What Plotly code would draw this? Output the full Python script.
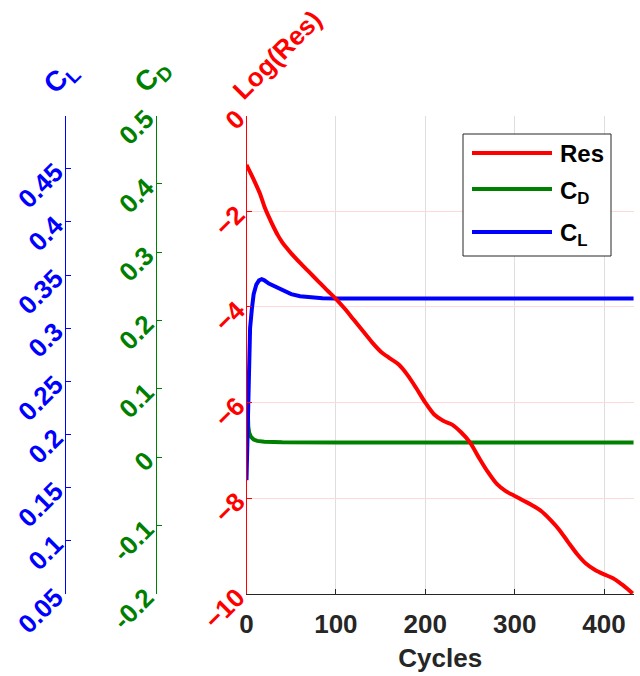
import plotly.graph_objects as go

# Convergence history: residual (log10) and force coefficients vs. solver cycles
res_cycles = [0, 5, 10, 15, 20, 25, 30, 35, 40, 45, 50, 60, 70, 80, 90, 100,
              110, 120, 130, 140, 150, 160, 170, 180, 190, 200, 210, 220, 230,
              240, 250, 260, 270, 280, 290, 300, 310, 320, 330, 340, 350, 360,
              370, 380, 390, 400, 410, 420, 426, 432]
log_res = [-1.03, -1.22, -1.42, -1.63, -1.90, -2.12, -2.32, -2.50, -2.65, -2.77,
           -2.88, -3.08, -3.27, -3.46, -3.65, -3.83, -4.04, -4.27, -4.50, -4.73,
           -4.93, -5.07, -5.20, -5.42, -5.70, -6.00, -6.25, -6.38, -6.46, -6.62,
           -6.83, -7.15, -7.45, -7.70, -7.85, -7.95, -8.05, -8.15, -8.27, -8.45,
           -8.66, -8.92, -9.17, -9.37, -9.50, -9.59, -9.67, -9.80, -9.89, -9.99]

cd_cycles = [0, 1, 2, 3, 5, 8, 12, 20, 40, 100, 200, 300, 433]
cd_values = [0.126, 0.075, 0.045, 0.036, 0.030, 0.026, 0.024, 0.0228, 0.022,
             0.0218, 0.0216, 0.0215, 0.0215]

cl_cycles = [0, 1, 2, 3, 4, 6, 8, 11, 14, 17, 20, 25, 30, 40, 50, 60, 70, 85,
             100, 200, 300, 433]
cl_values = [0.157, 0.200, 0.250, 0.280, 0.300, 0.318, 0.332, 0.341, 0.345,
             0.346, 0.345, 0.342, 0.340, 0.335, 0.332, 0.330, 0.329, 0.3282,
             0.328, 0.328, 0.328, 0.328]

x_ticks = [0, 100, 200, 300, 400]
res_ticks = [0, -2, -4, -6, -8, -10]
cd_ticks = [0.5, 0.4, 0.3, 0.2, 0.1, 0, -0.1, -0.2]
cd_tick_text = ["0.5", "0.4", "0.3", "0.2", "0.1", "0", "-0.1", "-0.2"]
cl_ticks = [0.05, 0.1, 0.15, 0.2, 0.25, 0.3, 0.35, 0.4, 0.45]
cl_tick_text = ["0.05", "0.1", "0.15", "0.2", "0.25", "0.3", "0.35", "0.4", "0.45"]

legend_labels = ["Res", "C<sub>D</sub>", "C<sub>L</sub>"]

RED = "#ff0000"
GREEN = "#008000"
BLUE = "#0000ff"
DARK = "#262626"
FONT = "Liberation Sans, Arial, sans-serif"
LW = 4

W, H = 640, 676
x0_px, x1_px = 246.5, 634.0
y_top_px, y_bot_px = 115.5, 594.0
dom_y = [1 - y_bot_px / H, 1 - y_top_px / H]


def px_x(p):
    return p / W


def px_y(p):
    return 1 - p / H


fig = go.Figure()
fig.add_trace(go.Scatter(x=cd_cycles, y=cd_values, mode="lines", name=legend_labels[1],
                         line=dict(color=GREEN, width=LW), yaxis="y"))
fig.add_trace(go.Scatter(x=cl_cycles, y=cl_values, mode="lines", name=legend_labels[2],
                         line=dict(color=BLUE, width=LW), yaxis="y2"))
fig.add_trace(go.Scatter(x=res_cycles, y=log_res, mode="lines", name=legend_labels[0],
                         line=dict(color=RED, width=LW, shape="spline", smoothing=0.8),
                         yaxis="y3"))


def tick_font(c):
    return dict(family=FONT, size=26, color=c, weight="bold")


fig.update_layout(
    width=W, height=H,
    margin=dict(l=0, r=0, t=0, b=0),
    paper_bgcolor="white", plot_bgcolor="white",
    showlegend=False,
    xaxis=dict(
        domain=[px_x(x0_px), px_x(x1_px)], range=[0, 433.5], anchor="y3",
        tickvals=x_ticks, ticks="inside", ticklen=5, tickcolor=DARK,
        showline=True, linecolor=DARK, linewidth=1,
        showgrid=True, gridcolor="#dedede", gridwidth=1, zeroline=False,
        tickfont=tick_font(DARK), automargin=False, ticklabelstandoff=7,
        title=dict(text="Cycles", standoff=10,
                   font=dict(family=FONT, size=26, color=DARK, weight="bold")),
    ),
    yaxis=dict(
        domain=dom_y, range=[-0.2, 0.5], anchor="free", position=px_x(155.5),
        side="left", tickvals=cd_ticks, ticktext=cd_tick_text,
        ticks="inside", ticklen=5, tickcolor=GREEN,
        showline=True, linecolor=GREEN, linewidth=1,
        showgrid=False, zeroline=False, tickangle=-45, ticklabelstandoff=4,
        tickfont=tick_font(GREEN), automargin=False,
    ),
    yaxis2=dict(
        domain=dom_y, range=[0.05, 0.5], anchor="free", position=px_x(64.7),
        overlaying="y", side="left", tickvals=cl_ticks, ticktext=cl_tick_text,
        ticks="inside", ticklen=5, tickcolor=BLUE,
        showline=True, linecolor=BLUE, linewidth=1,
        showgrid=False, zeroline=False, tickangle=-45, ticklabelstandoff=4,
        tickfont=tick_font(BLUE), automargin=False,
    ),
    yaxis3=dict(
        domain=dom_y, range=[-10, 0], anchor="x", overlaying="y", side="left",
        tickvals=res_ticks, ticks="inside", ticklen=5, tickcolor=RED,
        showline=True, linecolor=RED, linewidth=1,
        showgrid=True, gridcolor="#ffd9d9", gridwidth=1, zeroline=False,
        tickangle=-45, ticklabelstandoff=3, tickfont=tick_font(RED),
        automargin=False,
    ),
)

# Rotated axis captions above each y axis
captions = [
    ("C<sub>L</sub>", 61, 78, BLUE, 28),
    ("C<sub>D</sub>", 153, 77, GREEN, 28),
    ("Log(Res)", 277, 55, RED, 26),
]
for text, px, py, color, size in captions:
    fig.add_annotation(
        text=text, xref="paper", yref="paper", x=px_x(px), y=px_y(py),
        xanchor="center", yanchor="middle", showarrow=False, textangle=-45,
        font=dict(family=FONT, size=size, color=color, weight="bold"),
    )

# Boxed key in the upper right of the plot area
fig.add_shape(type="rect", xref="paper", yref="paper",
              x0=px_x(463), x1=px_x(611), y0=px_y(256), y1=px_y(134),
              line=dict(color=DARK, width=1), fillcolor="white", layer="above")
key_rows = [(legend_labels[0], RED, 153, 153),
            (legend_labels[1], GREEN, 189, 192),
            (legend_labels[2], BLUE, 232, 235)]
for label, color, line_y, text_y in key_rows:
    fig.add_shape(type="line", xref="paper", yref="paper",
                  x0=px_x(472), x1=px_x(552), y0=px_y(line_y), y1=px_y(line_y),
                  line=dict(color=color, width=LW), layer="above")
    fig.add_annotation(
        text=label, xref="paper", yref="paper", x=px_x(558), y=px_y(text_y),
        xanchor="left", yanchor="middle", showarrow=False,
        font=dict(family=FONT, size=24, color="black", weight="bold"),
    )

fig.write_html("out.html")
